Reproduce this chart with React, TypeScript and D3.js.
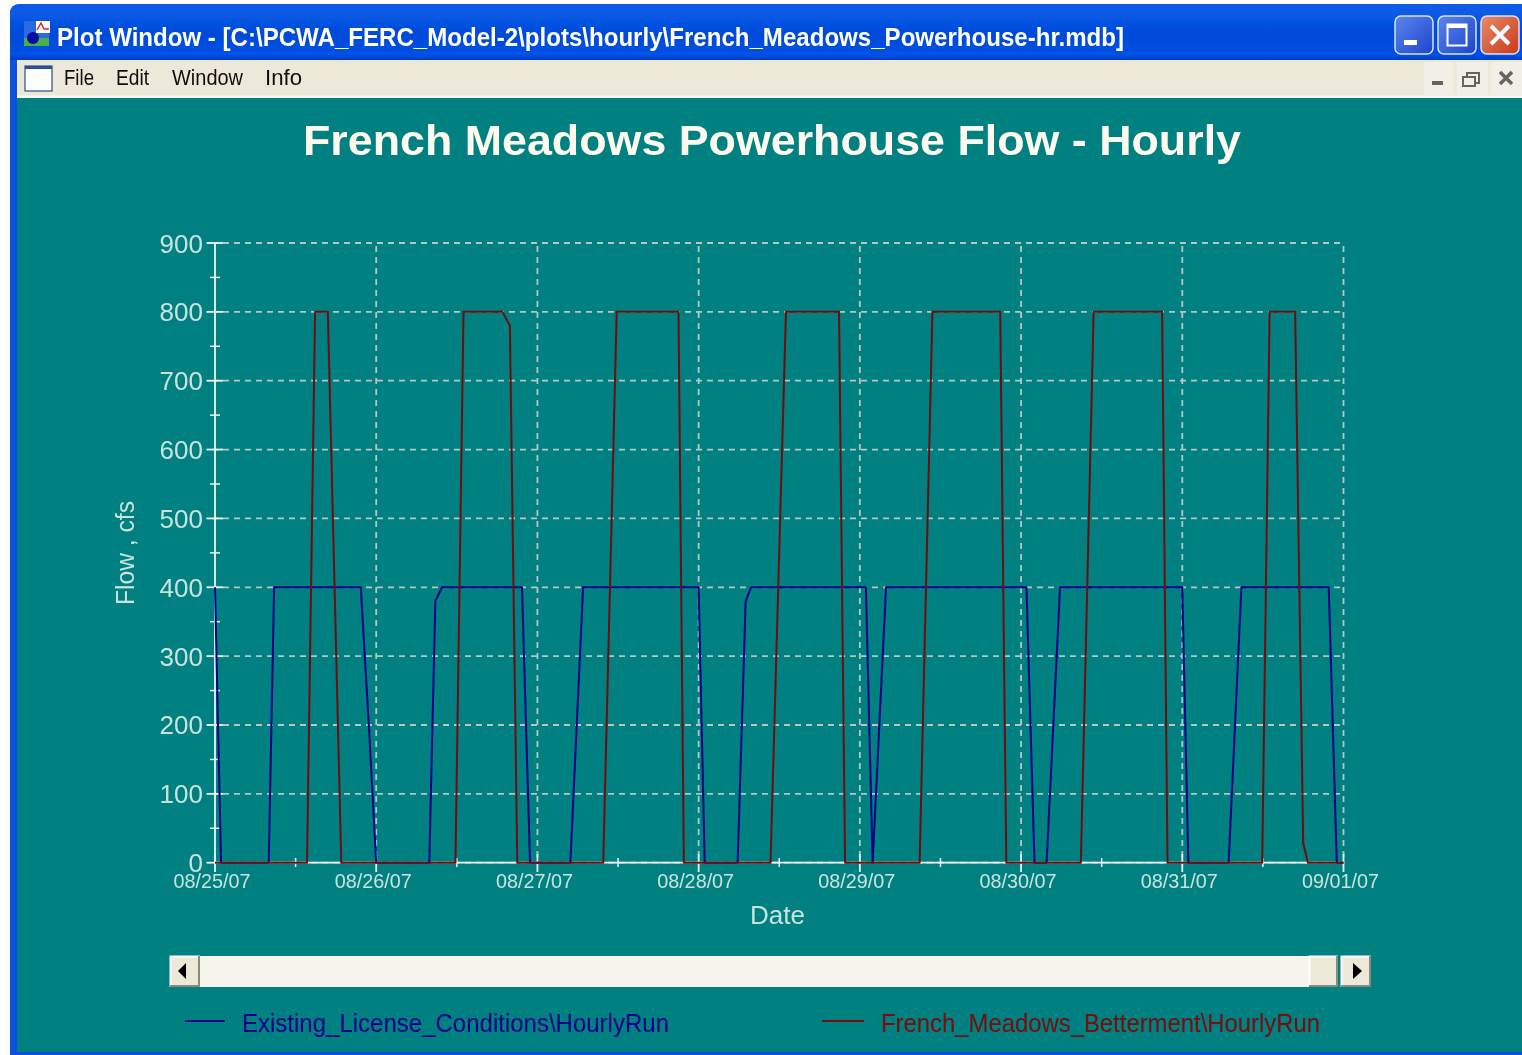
import React from "react";
import * as d3 from "d3";

const titleText = "French Meadows Powerhouse Flow - Hourly";
const windowTitle = "Plot Window - [C:\\PCWA_FERC_Model-2\\plots\\hourly\\French_Meadows_Powerhouse-hr.mdb]";
const menus = [
  { label: "File", x0: 64, x1: 94 },
  { label: "Edit", x0: 116, x1: 149 },
  { label: "Window", x0: 172, x1: 243 },
  { label: "Info", x0: 265, x1: 302 },
];
const dateLabels = ["08/25/07", "08/26/07", "08/27/07", "08/28/07", "08/29/07", "08/30/07", "08/31/07", "09/01/07"];
const yTicks = [0, 100, 200, 300, 400, 500, 600, 700, 800, 900];
const yMinor = [50, 150, 250, 350, 450, 550, 650, 750, 850];
const legendA = "Existing_License_Conditions\\HourlyRun";
const legendB = "French_Meadows_Betterment\\HourlyRun";

// hours since 08/25/07 00:00, flow in cfs
const existingHours = [0, 0.9, 8, 8.8, 21.7, 22.9, 24, 31.9, 32.8, 33.8, 45.7, 46.9, 52.9, 54.8, 72, 72.9, 77.8, 79, 79.8, 96.9, 97.9, 99.9, 120.8, 122, 123.8, 125.8, 144, 144.9, 150.9, 152.8, 165.8, 167, 168];
const existingFlow = [400, 0, 0, 400, 400, 200, 0, 0, 380, 400, 400, 0, 0, 400, 400, 0, 0, 380, 400, 400, 0, 400, 400, 0, 0, 400, 400, 0, 0, 400, 400, 0, 0];
const bettermentHours = [0, 13.7, 14.9, 16.8, 18.8, 35.8, 37, 42.8, 43.9, 45, 57.8, 59.8, 69, 69.8, 82.7, 85, 92.9, 93.8, 104.9, 106.8, 116.9, 117.8, 128.9, 130.8, 141, 141.8, 155.9, 157, 160.8, 162, 162.7, 168];
const bettermentFlow = [0, 0, 800, 800, 0, 0, 800, 800, 780, 0, 0, 800, 800, 0, 0, 800, 800, 0, 0, 800, 800, 0, 0, 800, 800, 0, 0, 800, 800, 29, 0, 0];

const x = d3.scaleLinear().domain([0, 168]).range([215, 1343.5]);
const y = d3.scaleLinear().domain([0, 900]).range([862.7, 243]);
const dayHours = d3.range(0, 169, 24);
const noonHours = d3.range(12, 168, 24);

const path = (hs: number[], vs: number[]) =>
  d3.line<number>().x((h) => x(h)).y((_, i) => y(vs[i]))(hs) as string;

const TEAL = "#008080";
const GRID = "#b8c6c2";
const AXIS = "#eef6f2";
const LABEL = "#c9e3dc";
const sans = "'Liberation Sans', Arial, sans-serif";

function Btn3D({ x0, y0, w, h }: { x0: number; y0: number; w: number; h: number }) {
  return (
    <g>
      <rect x={x0} y={y0} width={w} height={h} fill="#ece9d8" />
      <path d={`M${x0 + 0.5},${y0 + h} V${y0 + 0.5} H${x0 + w}`} fill="none" stroke="#fff" strokeWidth={2} />
      <path d={`M${x0 + w - 1},${y0} V${y0 + h - 1} H${x0}`} fill="none" stroke="#8c8a7c" strokeWidth={2} />
    </g>
  );
}

function WinBtn({ x0, fill, children }: { x0: number; fill: string; children?: React.ReactNode }) {
  return (
    <g>
      <rect x={x0} y={16} width={38} height={38} rx={6} fill={fill} stroke="#d8e4fa" strokeWidth={1.5} />
      {children}
    </g>
  );
}

export default function App() {
  return (
    <svg width={1522} height={1055} viewBox="0 0 1522 1055" style={{ position: "absolute", left: 0, top: 0, background: "#fff" }}>
      <defs>
        <linearGradient id="bar" x1="0" y1="0" x2="0" y2="1">
          <stop offset="0" stopColor="#0a5ce6" />
          <stop offset="0.12" stopColor="#0a5ce8" />
          <stop offset="0.55" stopColor="#0049d8" />
          <stop offset="0.9" stopColor="#0052e6" />
          <stop offset="1" stopColor="#003dc4" />
        </linearGradient>
        <linearGradient id="wb" x1="0" y1="0" x2="1" y2="1">
          <stop offset="0" stopColor="#5c86ee" />
          <stop offset="1" stopColor="#1c44cc" />
        </linearGradient>
        <linearGradient id="wc" x1="0" y1="0" x2="1" y2="1">
          <stop offset="0" stopColor="#e88a68" />
          <stop offset="1" stopColor="#c8391a" />
        </linearGradient>
        <filter id="soft" x="0" y="0" width="100%" height="100%">
          <feGaussianBlur stdDeviation="0.45" />
        </filter>
        <pattern id="track" width="2" height="2" patternUnits="userSpaceOnUse">
          <rect width="2" height="2" fill="#f7f6ef" />
          <rect width="1" height="1" fill="#efeee4" />
        </pattern>
      </defs>
      <g filter="url(#soft)">
        {/* window frame */}
        <path d="M10,1055 V14 Q10,4 20,4 H1522 V1055 Z" fill="#0a50e0" />
        <path d="M10,60 V14 Q10,4 20,4 H1522 V60 Z" fill="url(#bar)" />
        <rect x={17} y={60} width={1505} height={992} fill={TEAL} />

        {/* title bar */}
        <rect x={24} y={21} width={25} height={25} fill="#2a6ae0" />
        <rect x={36} y={21} width={14} height={12} fill="#fff" />
        <path d="M37,30 L41,23 L44,29 L49,29" fill="none" stroke="#e02020" strokeWidth={1.5} />
        <rect x={24} y={38} width={25} height={8} fill="#48b048" />
        <circle cx={33} cy={38} r={6} fill="#0010a0" />
        <text x={57} y={46} fontFamily={sans} fontWeight={700} fontSize={25} fill="#fff" textLength={1067} lengthAdjust="spacingAndGlyphs">{windowTitle}</text>
        <WinBtn x0={1395} fill="url(#wb)"><rect x={1404} y={40} width={13} height={5} fill="#fff" /></WinBtn>
        <WinBtn x0={1438} fill="url(#wb)">
          <rect x={1447.5} y={24.5} width={19} height={21} fill="none" stroke="#fff" strokeWidth={2} />
          <rect x={1447} y={24} width={20} height={4} fill="#fff" />
        </WinBtn>
        <WinBtn x0={1481} fill="url(#wc)"><path d="M1491,26 L1509,44 M1509,26 L1491,44" stroke="#fff" strokeWidth={4} /></WinBtn>

        {/* menu bar */}
        <rect x={17} y={60} width={1505} height={38} fill="#ece9d8" />
        <rect x={17} y={95.5} width={1505} height={2.5} fill="#f8f6ee" />
        <rect x={25} y={66} width={27} height={25} fill="#fdfdfb" stroke="#2c4c90" strokeWidth={1.2} />
        <rect x={25} y={66} width={27} height={3} fill="#2a4ea0" />
        {menus.map((m) => (
          <text key={m.label} x={m.x0} y={85} fontFamily={sans} fontSize={22} fill="#111" textLength={m.x1 - m.x0} lengthAdjust="spacingAndGlyphs">{m.label}</text>
        ))}
        <rect x={1424} y={62} width={29} height={33} fill="#f2f0e6" />
        <rect x={1457} y={62} width={31} height={33} fill="#f2f0e6" />
        <rect x={1491} y={62} width={31} height={33} fill="#f2f0e6" />
        <rect x={1432} y={81} width={11} height={4} fill="#66655c" />
        <rect x={1467} y={73} width={12} height={10} fill="none" stroke="#66655c" strokeWidth={2} />
        <rect x={1463} y={77} width={12} height={9} fill="#f2f0e6" stroke="#66655c" strokeWidth={2} />
        <path d="M1500,72 L1512,84 M1512,72 L1500,84" stroke="#66655c" strokeWidth={3.5} />

        {/* chart title */}
        <text x={772} y={155} textAnchor="middle" fontFamily={sans} fontWeight={700} fontSize={43} fill="#fffaee" textLength={938} lengthAdjust="spacingAndGlyphs">{titleText}</text>

        {/* grid */}
        {yTicks.map((t) => (
          <line key={t} x1={x(0)} x2={x(168)} y1={y(t)} y2={y(t)} stroke={GRID} strokeWidth={1.8} strokeDasharray="6 5" strokeDashoffset={-8} />
        ))}
        {dayHours.slice(1).map((h) => (
          <line key={h} x1={x(h)} x2={x(h)} y1={y(900)} y2={y(0)} stroke={GRID} strokeWidth={1.8} strokeDasharray="6 5" strokeDashoffset={-3} />
        ))}

        {/* axes */}
        <line x1={x(0)} x2={x(0)} y1={y(900)} y2={y(0)} stroke={AXIS} strokeWidth={1.8} />
        <line x1={x(0)} x2={x(168)} y1={y(0)} y2={y(0)} stroke={AXIS} strokeWidth={1.8} />
        {yTicks.map((t) => (
          <line key={t} x1={206.5} x2={223} y1={y(t)} y2={y(t)} stroke={AXIS} strokeWidth={1.8} />
        ))}
        {yMinor.map((t) => (
          <line key={t} x1={210} x2={220} y1={y(t)} y2={y(t)} stroke={AXIS} strokeWidth={1.5} />
        ))}
        {dayHours.map((h) => (
          <line key={h} x1={x(h)} x2={x(h)} y1={854} y2={872} stroke={AXIS} strokeWidth={1.8} />
        ))}
        {noonHours.map((h) => (
          <line key={h} x1={x(h)} x2={x(h)} y1={858} y2={867} stroke={AXIS} strokeWidth={1.5} />
        ))}

        {/* labels */}
        {yTicks.map((t) => (
          <text key={t} x={203} y={y(t) + 9.5} textAnchor="end" fontFamily={sans} fontSize={26} fill={LABEL}>{t}</text>
        ))}
        {dateLabels.map((d, i) => (
          <text key={d} x={x(dayHours[i]) - 3} y={888} textAnchor="middle" fontFamily={sans} fontSize={19.8} fill={LABEL}>{d}</text>
        ))}
        <text x={777.5} y={924} textAnchor="middle" fontFamily={sans} fontSize={26} fill={LABEL}>Date</text>
        <text transform="translate(134,553) rotate(-90)" textAnchor="middle" fontFamily={sans} fontSize={25} fill={LABEL} textLength={104} lengthAdjust="spacingAndGlyphs">Flow , cfs</text>

        {/* series */}
        <path d={path(existingHours, existingFlow)} fill="none" stroke="#000088" strokeWidth={2} strokeLinejoin="round" />
        <path d={path(bettermentHours, bettermentFlow)} fill="none" stroke="#6e0c10" strokeWidth={2} strokeLinejoin="round" />

        {/* scrollbar */}
        <rect x={200} y={956} width={1109} height={31} fill="url(#track)" />
        <Btn3D x0={170} y0={956} w={30} h={31} />
        <path d="M178,971 L186,963 V979 Z" fill="#000" />
        <Btn3D x0={1309} y0={956} w={29} h={31} />
        <Btn3D x0={1341} y0={956} w={30} h={31} />
        <path d="M1362,971 L1353,963 V979 Z" fill="#000" />

        {/* legend */}
        <line x1={185} x2={225} y1={1021} y2={1021} stroke="#000088" strokeWidth={2} />
        <text x={242} y={1032} fontFamily={sans} fontSize={25} fill="#000088" textLength={427} lengthAdjust="spacingAndGlyphs">{legendA}</text>
        <line x1={822} x2={864} y1={1021} y2={1021} stroke="#7a0808" strokeWidth={2} />
        <text x={881} y={1032} fontFamily={sans} fontSize={25} fill="#7a0808" textLength={439} lengthAdjust="spacingAndGlyphs">{legendB}</text>
      </g>
    </svg>
  );
}
